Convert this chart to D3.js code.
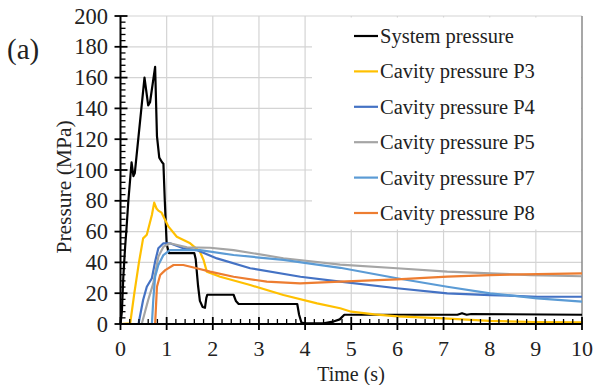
<!DOCTYPE html>
<html><head><meta charset="utf-8">
<script src="https://cdn.jsdelivr.net/npm/d3@7"></script>
<style>body{margin:0;background:#fff}svg{display:block}text{font-family:"Liberation Serif","Times New Roman",serif;fill:#222}</style>
</head><body>
<svg id="c" width="595" height="385" font-family="Liberation Serif, Times New Roman, serif"></svg>
<script>
// ---- data ----
const seriesNames = ["System pressure","Cavity pressure P3","Cavity pressure P4","Cavity pressure P5","Cavity pressure P7","Cavity pressure P8"];
const seriesColors = ["#000000","#FFC000","#4472C4","#A5A5A5","#5B9BD5","#ED7D31"];

const tSys = [0,0.03,0.06,0.1,0.13,0.17,0.24,0.28,0.31,0.52,0.6,0.64,0.75,0.79,0.84,0.9,0.93,0.96,1.0,1.05,1.6,1.63,1.68,1.72,1.78,1.83,1.86,1.88,2.45,2.5,2.56,3.83,3.87,3.92,4.0,4.4,4.6,4.75,4.85,4.95,7.3,7.4,7.5,7.6,10];
const pSys = [0,8,30,50,62,80,105,96,98,160,142,144,167,122,108,105,104,80,52,46,46,42,25,15,11,10.5,17,19,19,15,13,13,6,1,0.5,0.5,1.5,3,6,6,6,7,6,6.5,6];

const tP3 = [0,0.21,0.3,0.4,0.49,0.57,0.68,0.73,0.78,0.82,0.89,1.04,1.22,1.51,1.72,1.8,1.87,2.16,2.81,3.53,4.26,4.76,5.0,5.5,6.0,7.0,8.0,9.0,10];
const pP3 = [0,0.5,20,40,55.6,58,70.8,78.8,75,73.6,72.3,63.2,56.7,52.4,47,41.6,34,30.7,25.3,18.8,13.4,10.2,8,6.3,5,3.6,2,1.3,1];

const tP4 = [0,0.39,0.49,0.57,0.68,0.75,0.82,0.93,1.07,1.36,1.65,2.09,2.81,3.9,4.76,5.99,7.08,8.01,9.03,10];
const pP4 = [0,0,15.6,24.2,29.7,40.5,49.2,52.4,52.4,49.2,48,42.6,36.2,30.7,27.5,23.2,19.9,18.8,17.7,17.7];

const tP5 = [0,0.46,0.6,0.71,0.82,0.93,1.07,1.44,1.94,2.45,3.53,4.76,5.99,7.08,8.01,8.88,10];
const pP5 = [0,0,15.6,26.4,43.7,50.2,52.4,49.8,49.5,48,42.7,38.5,36.2,34,32.9,31.8,31];

const tP7 = [0,0.68,0.71,0.75,0.82,0.93,1.07,1.51,1.72,2.45,3.53,4.76,5.99,7.08,8.01,9.03,10];
const pP7 = [0,0,15.6,30.7,38.3,44.8,48,48,48,44.8,41.6,36.5,29.7,24.2,19.9,16.7,14.5];

const tP8 = [0,0.75,0.79,0.86,0.97,1.15,1.36,1.65,1.94,2.45,3.17,3.89,4.76,5.99,7.08,8.01,10];
const pP8 = [0,0,24.2,31.8,35,38.3,38.3,36.2,34,30.7,27.5,26.4,27.5,29,30.7,31.8,32.9];

const xTicks = [0,1,2,3,4,5,6,7,8,9,10];
const yTicks = [0,20,40,60,80,100,120,140,160,180,200];
const xTitle = "Time (s)", yTitle = "Pressure (MPa)", panelLabel = "(a)";

// ---- chart ----
const FF = "Liberation Serif, Times New Roman, serif";
const times = [tSys,tP3,tP4,tP5,tP7,tP8];
const vals = [pSys,pP3,pP4,pP5,pP7,pP8];
const svg = d3.select("#c");
const L=120.5, R=582, T=16, B=324;
const x = d3.scaleLinear().domain([0,10]).range([L,R]);
const y = d3.scaleLinear().domain([0,200]).range([B,T]);

// grid
const g = svg.append("g");
g.selectAll(".hg").data(yTicks.slice(1)).join("line")
  .attr("x1",L).attr("x2",R).attr("y1",d=>y(d)).attr("y2",d=>y(d))
  .attr("stroke","#d4d4d4").attr("stroke-width",1.2);
g.selectAll(".vg").data(xTicks.slice(1)).join("line")
  .attr("x1",d=>x(d)).attr("x2",d=>x(d)).attr("y1",T).attr("y2",B)
  .attr("stroke",d=>d===10?"#8a8a8a":"#d4d4d4").attr("stroke-width",d=>d===10?1.5:1.2);

// legend background
svg.append("rect").attr("x",312).attr("y",T+1.5).attr("width",R-312-1).attr("height",212).attr("fill","#fff");

// lines
const line = d3.line().x(d=>x(d[0])).y(d=>y(d[1]));
seriesNames.forEach((n,i)=>{
  const pts = times[i].map((t,j)=>[t,vals[i][j]]);
  svg.append("path").datum(pts).attr("d",line).attr("fill","none")
    .attr("stroke",seriesColors[i]).attr("stroke-width",2.2).attr("stroke-linejoin","round");
});

// axes
const ax = svg.append("g").attr("stroke","#000");
ax.append("line").attr("x1",L).attr("x2",L).attr("y1",T).attr("y2",B).attr("stroke-width",2);
ax.append("line").attr("x1",L).attr("x2",R).attr("y1",B).attr("y2",B).attr("stroke-width",2);
ax.selectAll(".ymaj").data(yTicks).join("line")
  .attr("x1",L-6).attr("x2",L+7).attr("y1",d=>y(d)).attr("y2",d=>y(d)).attr("stroke-width",1.8);
ax.selectAll(".ymin").data(d3.range(0,200,4).filter(v=>v%20!==0)).join("line")
  .attr("x1",L).attr("x2",L+5).attr("y1",d=>y(d)).attr("y2",d=>y(d)).attr("stroke-width",1.3);
ax.selectAll(".xmaj").data(xTicks).join("line")
  .attr("y1",B-7).attr("y2",B+6).attr("x1",d=>x(d)).attr("x2",d=>x(d)).attr("stroke-width",1.8);
ax.selectAll(".xmin").data(d3.range(0,50).map(v=>v/5).filter(v=>Math.abs(v-Math.round(v))>1e-6)).join("line")
  .attr("y1",B-5).attr("y2",B).attr("x1",d=>x(d)).attr("x2",d=>x(d)).attr("stroke-width",1.3);

// tick labels
svg.selectAll(".yl").data(yTicks).join("text")
  .attr("font-family",FF).attr("x",108).attr("y",d=>y(d)).attr("dy","0.34em").attr("text-anchor","end")
  .attr("font-size",22.5).text(d=>d);
svg.selectAll(".xl").data(xTicks).join("text")
  .attr("font-family",FF).attr("x",d=>x(d)).attr("y",356).attr("text-anchor","middle")
  .attr("font-size",22).text(d=>d);

// titles
svg.append("text").attr("font-family",FF).attr("x",351).attr("y",380.5).attr("text-anchor","middle").attr("font-size",20).text(xTitle);
svg.append("text").attr("font-family",FF).attr("transform","translate(71,187) rotate(-90)").attr("text-anchor","middle").attr("font-size",21.5).text(yTitle);
svg.append("text").attr("font-family",FF).attr("x",7).attr("y",59).attr("font-size",29).text(panelLabel);

// legend
const lg = svg.append("g");
seriesNames.forEach((n,i)=>{
  const yy = 36 + i*35.4;
  lg.append("line").attr("x1",354).attr("x2",378).attr("y1",yy).attr("y2",yy)
    .attr("stroke",seriesColors[i]).attr("stroke-width",2.2);
  lg.append("text").attr("font-family",FF).attr("x",380).attr("y",yy).attr("dy","0.34em").attr("font-size",20.5).text(n);
});
</script>
</body></html>
